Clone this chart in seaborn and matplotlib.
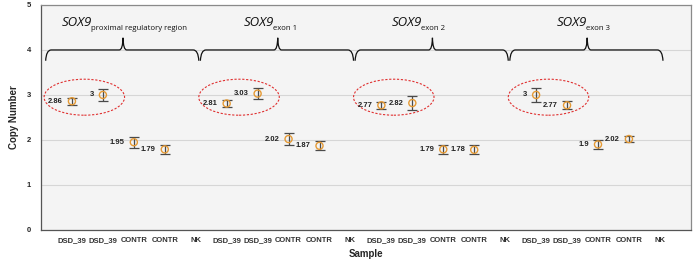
import numpy as np
import pandas as pd
import seaborn as sns
import matplotlib
matplotlib.use("Agg")
import matplotlib.pyplot as plt
from matplotlib.path import Path
from matplotlib.patches import PathPatch, Ellipse

# --- data ---
samples = ["DSD_39", "DSD_39", "CONTR", "CONTR", "NK"]
gene = "SOX9"
regions = ["proximal regulatory region", "exon 1", "exon 2", "exon 3"]
copy_number = [
    [2.86, 3.00, 1.95, 1.79],
    [2.81, 3.03, 2.02, 1.87],
    [2.77, 2.82, 1.79, 1.78],
    [3.00, 2.77, 1.90, 2.02],
]
errors = [
    [0.08, 0.13, 0.12, 0.10],
    [0.08, 0.13, 0.13, 0.10],
    [0.08, 0.16, 0.10, 0.10],
    [0.16, 0.09, 0.10, 0.06],
]
value_labels = [
    ["2.86", "3", "1.95", "1.79"],
    ["2.81", "3.03", "2.02", "1.87"],
    ["2.77", "2.82", "1.79", "1.78"],
    ["3", "2.77", "1.9", "2.02"],
]

n_per = len(samples)
rows = []
for g in range(len(regions)):
    for j, v in enumerate(copy_number[g]):
        rows.append({"pos": g * n_per + j, "cn": v, "err": errors[g][j],
                     "lab": value_labels[g][j]})
df = pd.DataFrame(rows)
tick_labels = samples * len(regions)

sns.set_style("white")
plt.rcParams["font.family"] = ["Liberation Sans", "DejaVu Sans"]

fig = plt.figure(figsize=(6.95, 2.61), dpi=100)
ax = fig.add_axes([0.059, 0.119, 0.935, 0.862])
ax.set_facecolor("#f4f4f4")

orange = "#e59a35"
ax.errorbar(df["pos"], df["cn"], yerr=df["err"], fmt="none", ecolor="#4a4a4a",
            elinewidth=0.9, capsize=3.6, capthick=0.9, zorder=3)
sns.scatterplot(data=df, x="pos", y="cn", ax=ax, s=26, marker="o",
                facecolors="none", edgecolor=orange, linewidth=1.0, zorder=4)

for _, r in df.iterrows():
    ax.annotate(r["lab"], (r["pos"], r["cn"]), xytext=(-6.5, 0),
                textcoords="offset points", ha="right", va="center",
                fontsize=5.5, fontweight="bold", color="#222222")

# red dashed ellipses around the DSD_39 pairs
for g in range(len(regions)):
    ax.add_patch(Ellipse((g * n_per + 0.4, 2.95), 2.6, 0.8, fill=False,
                         ec="#e03030", lw=0.8, ls=(0, (2, 1.5)), zorder=2))


def brace(x0, x1, xm, y):
    verts = [(x0, y - 0.24), (x0 + 0.02, y), (x0 + 0.18, y),
             (xm - 0.12, y), (xm - 0.01, y), (xm, y + 0.27),
             (xm + 0.01, y), (xm + 0.12, y),
             (x1 - 0.18, y), (x1 - 0.02, y), (x1, y - 0.24)]
    codes = [Path.MOVETO, Path.CURVE3, Path.CURVE3,
             Path.LINETO, Path.CURVE3, Path.CURVE3,
             Path.CURVE3, Path.CURVE3,
             Path.LINETO, Path.CURVE3, Path.CURVE3]
    ax.add_patch(PathPatch(Path(verts, codes), fill=False, ec="#111111",
                           lw=0.9, zorder=3))


title_start = [-0.32, 0.55, 0.35, 0.68]
for g, reg in enumerate(regions):
    base = g * n_per
    brace(base - 0.85, base + 4.1, base + 1.65, 4.0)
    t = ax.text(base + title_start[g], 4.53, gene, ha="left", va="baseline",
                fontsize=9.5, style="italic", family="Open Sans", color="#111111")
    ax.annotate(reg, xy=(1, 0), xycoords=t, xytext=(-0.8, -0.3),
                textcoords="offset points", ha="left", va="baseline",
                fontsize=5.6, family="Open Sans", color="#111111")

ax.set_xlim(-1, 20)
ax.set_ylim(0, 5)
ax.set_xticks(range(len(tick_labels)))
ax.set_xticklabels(tick_labels, fontsize=5.5, fontweight="bold", color="#333333")
ax.set_xticks([-1, 4, 9, 14, 19], minor=True)
ax.tick_params(axis="x", which="major", length=0, pad=5)
ax.tick_params(axis="x", which="minor", length=4, width=0.8, color="#555555")
ax.set_yticks(range(6))
ax.tick_params(axis="y", which="major", length=5, width=0.8, color="#555555",
               labelsize=5.5, pad=2)
for t in ax.get_yticklabels():
    t.set_fontweight("bold")

ax.grid(False)
ax.grid(axis="x", which="minor", color="#d6d6d6", lw=0.8, zorder=0)
ax.grid(axis="y", which="major", color="#d6d6d6", lw=0.8, zorder=0)
ax.set_axisbelow(True)

for side in ["left", "bottom"]:
    ax.spines[side].set_color("#555555")
    ax.spines[side].set_linewidth(0.9)
for side in ["top", "right"]:
    ax.spines[side].set_color("#8a8a8a")
    ax.spines[side].set_linewidth(0.9)

ax.set_xlabel("Sample", fontsize=7, fontweight="bold", labelpad=4)
ax.set_ylabel("Copy Number", fontsize=7, fontweight="bold", labelpad=6)

fig.savefig("out.png", dpi=100)
